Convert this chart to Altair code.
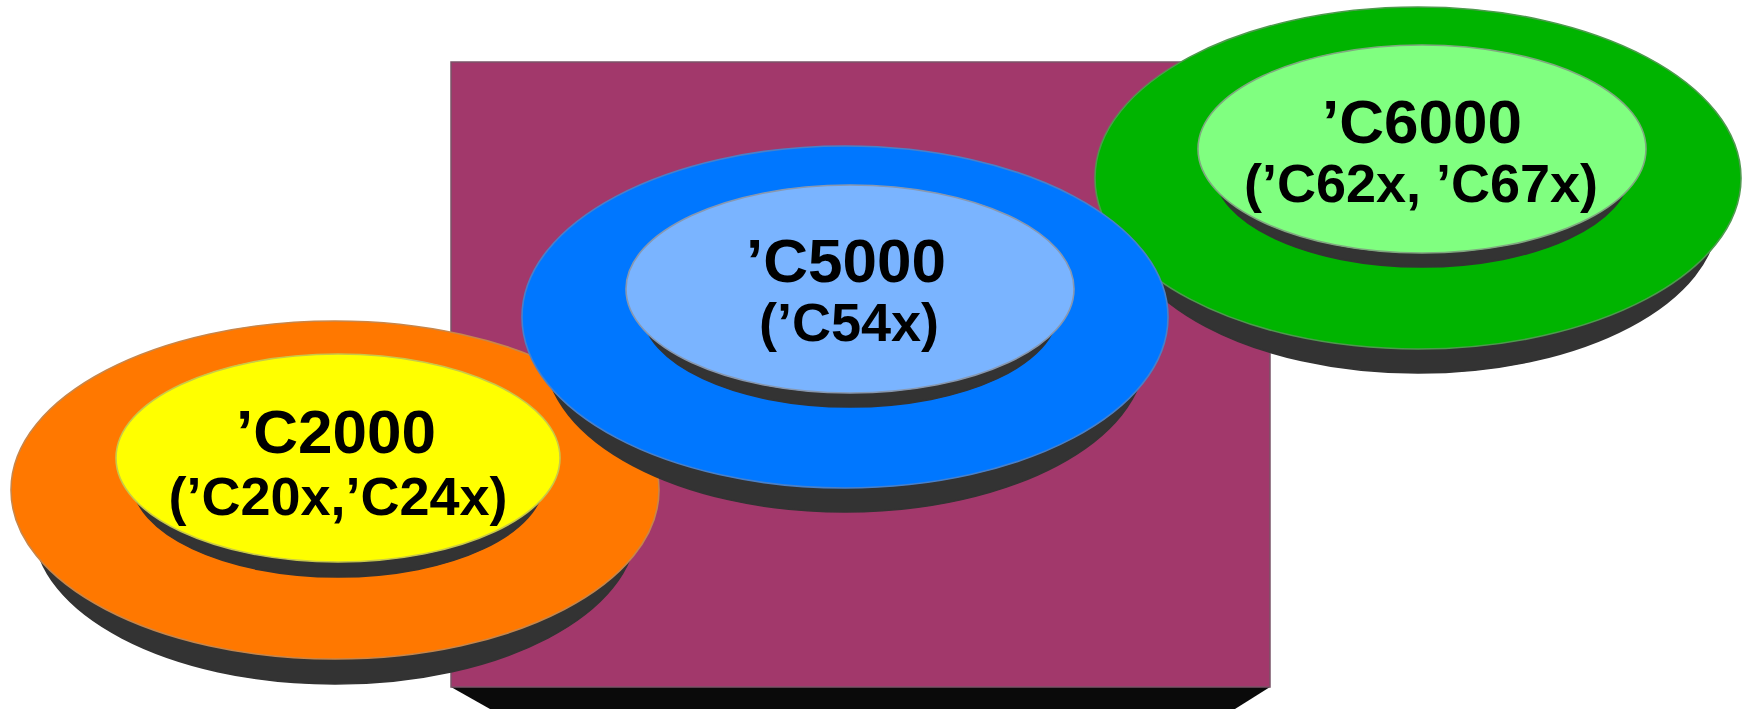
import altair as alt
import pandas as pd

W, H = 1746, 710

# Disc geometry (pixel units). Each disc = a dark side (lower, slightly
# narrower ellipse) plus a coloured top face. Listed in drawing order.
disc_part = ["C2000 ring", "C2000 core", "C6000 ring", "C6000 core", "C5000 ring", "C5000 core"]
top_cx = [335, 338, 1418, 1422, 845, 850]
top_cy = [490, 458, 178, 149, 317, 289]
top_rx = [324, 222, 323, 224, 323, 224]
top_ry = [169, 104, 171, 104, 171, 104]
side_cy = [527, 480, 214, 170, 353, 310]
side_rx = [301, 206, 300, 208, 300, 208]
side_ry = [157, 97, 159, 97, 159, 97]
top_fill = ["#ff7800", "#ffff00", "#00b400", "#80ff80", "#0077ff", "#7ab4ff"]
top_edge = ["#c8864a", "#c8c84a", "#4e9a4e", "#80a880", "#4a80c8", "#8898b0"]
side_fill = "#333333"

# Labels on the core platters
labels = ["’C2000", "(’C20x,’C24x)", "’C6000", "(’C62x, ’C67x)", "’C5000", "(’C54x)"]
label_x = [336, 338, 1422, 1421, 846, 849]
label_y = [453, 515, 143, 202, 282, 341]
label_size = [62, 54, 62, 54, 62, 54]

# Backplate rectangle and its bevelled shadow
plate = {"x": 451, "x2": 1270, "y": 62, "y2": 687}
shadow_x = [451, 490, 1235, 1270]
shadow_top = [687, 687, 687, 687]
shadow_bottom = [687, 709, 709, 687]


def ellipse_path(ratio):
    """Unit ellipse (x in [-1, 1]) built from four cubic Bezier arcs."""
    k = 0.5523
    r = ratio
    return (
        f"M-1,0 C-1,{-r*k:.4f} {-k:.4f},{-r:.4f} 0,{-r:.4f} "
        f"C{k:.4f},{-r:.4f} 1,{-r*k:.4f} 1,0 "
        f"C1,{r*k:.4f} {k:.4f},{r:.4f} 0,{r:.4f} "
        f"C{-k:.4f},{r:.4f} -1,{r*k:.4f} -1,0 Z"
    )


rows = []
z = 0
for i, name in enumerate(disc_part):
    for kind in ("side", "top"):
        if kind == "side":
            cx, cy, rx, ry = top_cx[i], side_cy[i], side_rx[i], side_ry[i]
            fill, edge = side_fill, side_fill
        else:
            cx, cy, rx, ry = top_cx[i], top_cy[i], top_rx[i], top_ry[i]
            fill, edge = top_fill[i], top_edge[i]
        rows.append({
            "part": f"{name} {kind}",
            "cx": cx,
            "cy": cy,
            "size": (2 * rx) ** 2,
            "shape": ellipse_path(ry / rx),
            "fill": fill,
            "edge": edge,
            "z": z,
        })
        z += 1
discs = pd.DataFrame(rows)

text_df = pd.DataFrame({"label": labels, "x": label_x, "y": label_y, "size": label_size})
plate_df = pd.DataFrame([plate])
shadow_df = pd.DataFrame({"x": shadow_x, "y": shadow_top, "y2": shadow_bottom})

xs = alt.Scale(domain=[0, W], nice=False, zero=False)
ys = alt.Scale(domain=[0, H], nice=False, zero=False, reverse=True)


def X(f):
    return alt.X(f, type="quantitative", scale=xs, axis=None)


def Y(f):
    return alt.Y(f, type="quantitative", scale=ys, axis=None)


shadow = alt.Chart(shadow_df).mark_area(color="#0a0a0a", opacity=1).encode(
    x=X("x"), y=Y("y"), y2="y2"
)

plate_rect = alt.Chart(plate_df).mark_rect(
    color="#a2386b", stroke="#7a5468", strokeWidth=1.5
).encode(x=X("x"), x2="x2", y=Y("y"), y2="y2")

disc_layer = alt.Chart(discs).mark_point(
    filled=True, opacity=1, strokeWidth=1.6
).encode(
    x=X("cx"),
    y=Y("cy"),
    size=alt.Size("size:Q", scale=None),
    shape=alt.Shape("shape:N", scale=None),
    fill=alt.Fill("fill:N", scale=None),
    stroke=alt.Stroke("edge:N", scale=None),
    order=alt.Order("z:Q"),
)

text_layer = alt.Chart(text_df).mark_text(
    font="Liberation Sans", fontWeight="bold", color="black",
    align="center", baseline="alphabetic"
).encode(
    x=X("x"), y=Y("y"), text="label:N", size=alt.Size("size:Q", scale=None)
)

chart = alt.layer(shadow, plate_rect, disc_layer, text_layer).properties(
    width=W, height=H, padding=0, autosize="none", background="white"
).configure_view(stroke=None)

chart.save("out.html", embed_options={"renderer": "svg", "actions": False})
